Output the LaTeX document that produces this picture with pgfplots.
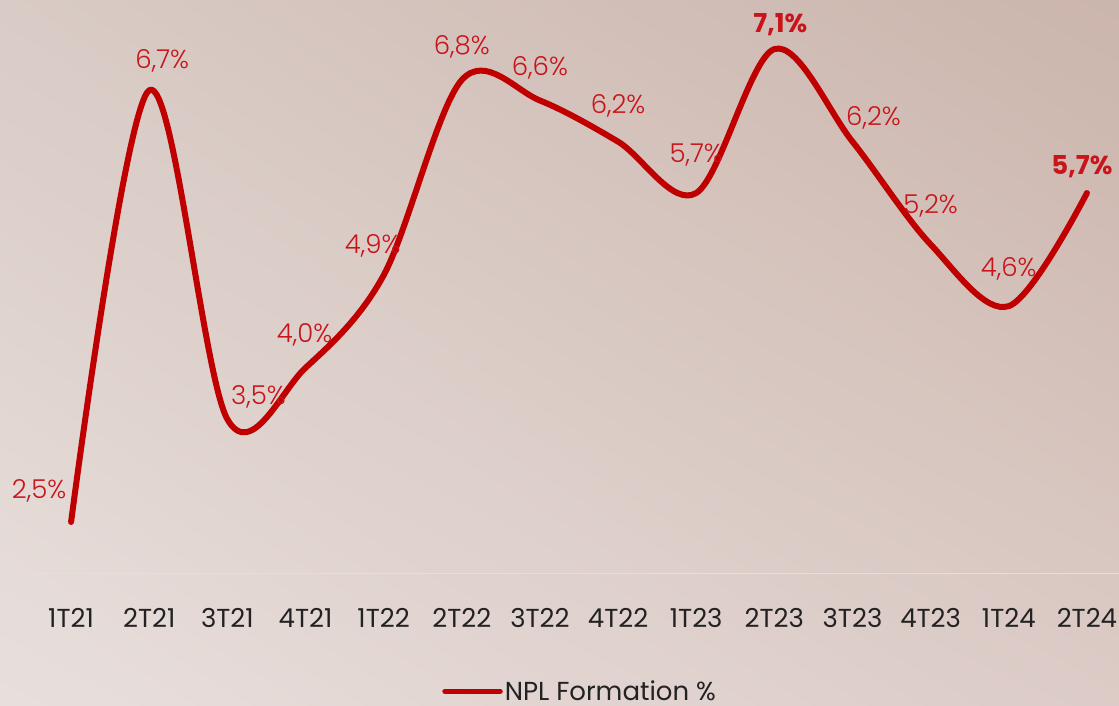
\documentclass[border=0pt]{standalone}
\usepackage{fontspec}
\setmainfont{Poppins}
\newfontfamily\lightfont{Poppins}[UprightFont=* Light, BoldFont=* Bold]
\usepackage{pgfplots}
\usepackage{pgfplotstable}
\usetikzlibrary{shadings}
\pgfplotsset{compat=1.18}
\definecolor{nplred}{HTML}{C00000}
\definecolor{lblred}{HTML}{C8141A}
\definecolor{ticktext}{HTML}{222222}
\definecolor{axisgray}{HTML}{E2E0DE}
\definecolor{bgUL}{HTML}{D9CBC5}
\definecolor{bgUR}{HTML}{CBB5AC}
\definecolor{bgLL}{HTML}{E8DFDC}
\definecolor{bgLR}{HTML}{DCCBC6}

\pgfplotstableread{
x y lab dx dy
0 2.5 {2,5\%} -32 24
1 6.7 {6,7\%} 13 22
2 3.5 {3,5\%} 31 15
3 4.0 {4,0\%} -1 25
4 4.9 {4,9\%} -11 22
5 6.8 {6,8\%} 0 25
6 6.6 {6,6\%} 0 25
7 6.2 {6,2\%} 0 28
8 5.7 {5,7\%} 0 31
9 7.1 {\textbf{7,1\%}} 6 17
10 6.2 {6,2\%} 21 16
11 5.2 {5,2\%} 0 31
12 4.6 {4,6\%} 0 30
13 5.7 {\textbf{5,7\%}} -5 19
}\npldata

\begin{document}
\begin{tikzpicture}
\useasboundingbox (0,0) rectangle (1119pt,705pt);
\shade[upper left=bgUL, upper right=bgUR, lower left=bgLL, lower right=bgLR] (0,0) rectangle (1119pt,705pt);
\begin{axis}[
  at={(32pt,131.6pt)}, anchor=south west,
  scale only axis, width=1094pt, height=565.4pt,
  xmin=-0.5, xmax=13.5, ymin=2, ymax=7.5,
  axis y line=none, axis x line*=bottom,
  x axis line style={draw=axisgray, line width=1.5pt, -},
  xtick={0,...,13},
  xticklabels={1T21,2T21,3T21,4T21,1T22,2T22,3T22,4T22,1T23,2T23,3T23,4T23,1T24,2T24},
  major tick length=0pt, xtick style={draw=none},
  xticklabel style={font=\fontsize{26}{30}\selectfont, text=ticktext, anchor=base, yshift=-53.6pt, inner sep=0pt},
  clip=false,
  legend style={at={(axis description cs:0.501,-0.2085)}, anchor=center, draw=none, fill=none,
    font=\fontsize{26}{30}\selectfont, text=ticktext, inner sep=0pt},
  legend image code/.code={\draw[nplred, line width=5.5pt, line cap=round] (0pt,0pt) -- (55pt,0pt);},
]
\addplot[nplred, line width=6pt, smooth, tension=0.55, line cap=round, line join=round] table[x=x, y=y]{\npldata};
\addlegendentry{NPL Formation \%}
\addplot[draw=none, mark=none, forget plot,
  point meta=explicit symbolic,
  visualization depends on={\thisrow{dx} \as \dx},
  visualization depends on={\thisrow{dy} \as \dy},
  nodes near coords,
  every node near coord/.append style={anchor=base, xshift=\dx pt, yshift=\dy pt, text=lblred,
    font=\lightfont\fontsize{26}{30}\selectfont, inner sep=0pt},
] table[x=x, y=y, meta=lab]{\npldata};
\end{axis}
\end{tikzpicture}
\end{document}
